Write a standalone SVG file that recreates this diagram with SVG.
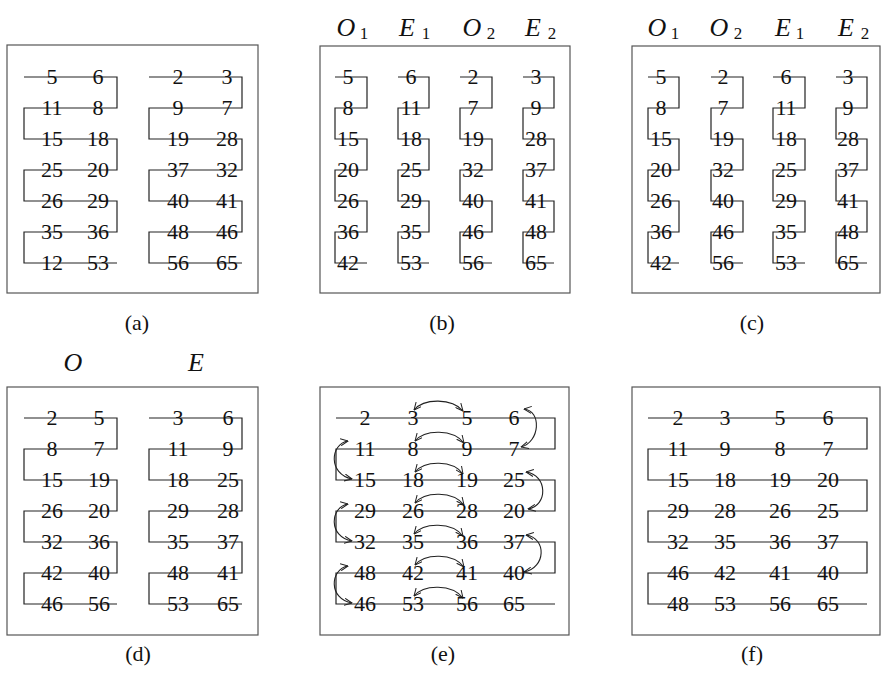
<svg xmlns="http://www.w3.org/2000/svg" width="884" height="680" viewBox="0 0 884 680">
<defs>
<style>
.frame{fill:none;stroke:#555;stroke-width:1.2}
.sp{fill:none;stroke:#222;stroke-width:1.2}
.arc{fill:none;stroke:#222;stroke-width:1.1;marker-start:url(#ah);marker-end:url(#ah)}
text{font-family:"Liberation Serif","Times New Roman",serif;fill:#111}
.n{font-size:22px;text-anchor:middle}
.cap{font-size:22px;text-anchor:middle}
.lab{font-size:26px;font-style:italic;text-anchor:middle}
.sub{font-size:17px;text-anchor:middle}
</style>
<marker id="ah" viewBox="0 0 8 8" refX="7.5" refY="4" markerWidth="8" markerHeight="8" markerUnits="userSpaceOnUse" orient="auto-start-reverse">
<path d="M0,0.5 L7.5,4 L0,7.5" fill="none" stroke="#222" stroke-width="1"/>
</marker>
</defs>
<rect width="884" height="680" fill="#fff"/>

<g id="connectors">
<path class="sp" d="M24 77 H117 V108 H24 V139 H117 V170 H24 V201 H117 V232 H24 V263 H117"/>
<path class="sp" d="M149 77 H242 V108 H149 V139 H242 V170 H149 V201 H242 V232 H149 V263 H242"/>
<path class="sp" d="M335 77 H367 V108 H335 V139 H367 V170 H335 V201 H367 V232 H335 V263 H367"/>
<path class="sp" d="M398 77 H429 V108 H398 V139 H429 V170 H398 V201 H429 V232 H398 V263 H429"/>
<path class="sp" d="M460 77 H492 V108 H460 V139 H492 V170 H460 V201 H492 V232 H460 V263 H492"/>
<path class="sp" d="M523 77 H554 V108 H523 V139 H554 V170 H523 V201 H554 V232 H523 V263 H554"/>
<path class="sp" d="M648 77 H679 V108 H648 V139 H679 V170 H648 V201 H679 V232 H648 V263 H679"/>
<path class="sp" d="M711 77 H743 V108 H711 V139 H743 V170 H711 V201 H743 V232 H711 V263 H743"/>
<path class="sp" d="M773 77 H805 V108 H773 V139 H805 V170 H773 V201 H805 V232 H773 V263 H805"/>
<path class="sp" d="M836 77 H867 V108 H836 V139 H867 V170 H836 V201 H867 V232 H836 V263 H867"/>
<path class="sp" d="M24 418 H117 V449 H24 V480 H117 V511 H24 V542 H117 V573 H24 V604 H117"/>
<path class="sp" d="M149 418 H242 V449 H149 V480 H242 V511 H149 V542 H242 V573 H149 V604 H242"/>
<path class="sp" d="M336 418 H555 V449 H336 V480 H555 V511 H336 V542 H555 V573 H336 V604 H555"/>
<path class="sp" d="M648 418 H867 V449 H648 V480 H867 V511 H648 V542 H867 V573 H648 V604 H867"/>
<path class="arc" d="M414 410 C424 398 452 398 463 411"/>
<path class="arc" d="M415 441 C425 429 453 429 464 443"/>
<path class="arc" d="M415 472 C425 460 453 460 463 474"/>
<path class="arc" d="M415 503 C425 491 453 491 464 505"/>
<path class="arc" d="M414 534 C424 522 452 522 463 536"/>
<path class="arc" d="M415 565 C425 553 453 553 464 567"/>
<path class="arc" d="M414 596 C424 584 452 584 463 598"/>
<path class="arc" d="M524 409 C542 411 540 442 521 447"/>
<path class="arc" d="M526 472 C548 475 548 506 528 509"/>
<path class="arc" d="M526 535 C547 538 546 568 524 572"/>
<path class="arc" d="M348 441 C330 444 328 474 352 479"/>
<path class="arc" d="M348 504 C330 507 328 537 352 541"/>
<path class="arc" d="M348 566 C330 569 328 599 352 603"/>
</g>

<g id="panel-a">
<rect class="frame" x="7" y="45" width="251" height="248"/>
<text class="n" x="52" y="84">5</text><text class="n" x="98" y="84">6</text><text class="n" x="178" y="84">2</text><text class="n" x="227" y="84">3</text>
<text class="n" x="52" y="115">11</text><text class="n" x="98" y="115">8</text><text class="n" x="178" y="115">9</text><text class="n" x="227" y="115">7</text>
<text class="n" x="52" y="146">15</text><text class="n" x="98" y="146">18</text><text class="n" x="178" y="146">19</text><text class="n" x="227" y="146">28</text>
<text class="n" x="52" y="177">25</text><text class="n" x="98" y="177">20</text><text class="n" x="178" y="177">37</text><text class="n" x="227" y="177">32</text>
<text class="n" x="52" y="208">26</text><text class="n" x="98" y="208">29</text><text class="n" x="178" y="208">40</text><text class="n" x="227" y="208">41</text>
<text class="n" x="52" y="239">35</text><text class="n" x="98" y="239">36</text><text class="n" x="178" y="239">48</text><text class="n" x="227" y="239">46</text>
<text class="n" x="52" y="270">12</text><text class="n" x="98" y="270">53</text><text class="n" x="178" y="270">56</text><text class="n" x="227" y="270">65</text>
<text class="cap" x="137" y="330">(a)</text>
</g>

<g id="panel-b">
<rect class="frame" x="320" y="46" width="250" height="247"/>
<text class="lab" x="346" y="36">O</text><text class="sub" x="364" y="39">1</text>
<text class="lab" x="407" y="36">E</text><text class="sub" x="426" y="39">1</text>
<text class="lab" x="472" y="36">O</text><text class="sub" x="491" y="39">2</text>
<text class="lab" x="533" y="36">E</text><text class="sub" x="552" y="39">2</text>
<text class="n" x="348" y="84">5</text><text class="n" x="348" y="115">8</text><text class="n" x="348" y="146">15</text><text class="n" x="348" y="177">20</text><text class="n" x="348" y="208">26</text><text class="n" x="348" y="239">36</text><text class="n" x="348" y="270">42</text>
<text class="n" x="411" y="84">6</text><text class="n" x="411" y="115">11</text><text class="n" x="411" y="146">18</text><text class="n" x="411" y="177">25</text><text class="n" x="411" y="208">29</text><text class="n" x="411" y="239">35</text><text class="n" x="411" y="270">53</text>
<text class="n" x="473" y="84">2</text><text class="n" x="473" y="115">7</text><text class="n" x="473" y="146">19</text><text class="n" x="473" y="177">32</text><text class="n" x="473" y="208">40</text><text class="n" x="473" y="239">46</text><text class="n" x="473" y="270">56</text>
<text class="n" x="536" y="84">3</text><text class="n" x="536" y="115">9</text><text class="n" x="536" y="146">28</text><text class="n" x="536" y="177">37</text><text class="n" x="536" y="208">41</text><text class="n" x="536" y="239">48</text><text class="n" x="536" y="270">65</text>
<text class="cap" x="442" y="330">(b)</text>
</g>

<g id="panel-c">
<rect class="frame" x="632" y="46" width="248" height="247"/>
<text class="lab" x="657" y="36">O</text><text class="sub" x="675" y="39">1</text>
<text class="lab" x="719" y="36">O</text><text class="sub" x="738" y="39">2</text>
<text class="lab" x="783" y="36">E</text><text class="sub" x="800" y="39">1</text>
<text class="lab" x="846" y="36">E</text><text class="sub" x="865" y="39">2</text>
<text class="n" x="661" y="84">5</text><text class="n" x="661" y="115">8</text><text class="n" x="661" y="146">15</text><text class="n" x="661" y="177">20</text><text class="n" x="661" y="208">26</text><text class="n" x="661" y="239">36</text><text class="n" x="661" y="270">42</text>
<text class="n" x="723" y="84">2</text><text class="n" x="723" y="115">7</text><text class="n" x="723" y="146">19</text><text class="n" x="723" y="177">32</text><text class="n" x="723" y="208">40</text><text class="n" x="723" y="239">46</text><text class="n" x="723" y="270">56</text>
<text class="n" x="786" y="84">6</text><text class="n" x="786" y="115">11</text><text class="n" x="786" y="146">18</text><text class="n" x="786" y="177">25</text><text class="n" x="786" y="208">29</text><text class="n" x="786" y="239">35</text><text class="n" x="786" y="270">53</text>
<text class="n" x="848" y="84">3</text><text class="n" x="848" y="115">9</text><text class="n" x="848" y="146">28</text><text class="n" x="848" y="177">37</text><text class="n" x="848" y="208">41</text><text class="n" x="848" y="239">48</text><text class="n" x="848" y="270">65</text>
<text class="cap" x="752" y="330">(c)</text>
</g>

<g id="panel-d">
<rect class="frame" x="7" y="387" width="251" height="248"/>
<text class="lab" x="73" y="371">O</text><text class="lab" x="196" y="371">E</text>
<text class="n" x="52" y="425">2</text><text class="n" x="99" y="425">5</text><text class="n" x="178" y="425">3</text><text class="n" x="228" y="425">6</text>
<text class="n" x="52" y="456">8</text><text class="n" x="99" y="456">7</text><text class="n" x="178" y="456">11</text><text class="n" x="228" y="456">9</text>
<text class="n" x="52" y="487">15</text><text class="n" x="99" y="487">19</text><text class="n" x="178" y="487">18</text><text class="n" x="228" y="487">25</text>
<text class="n" x="52" y="518">26</text><text class="n" x="99" y="518">20</text><text class="n" x="178" y="518">29</text><text class="n" x="228" y="518">28</text>
<text class="n" x="52" y="549">32</text><text class="n" x="99" y="549">36</text><text class="n" x="178" y="549">35</text><text class="n" x="228" y="549">37</text>
<text class="n" x="52" y="580">42</text><text class="n" x="99" y="580">40</text><text class="n" x="178" y="580">48</text><text class="n" x="228" y="580">41</text>
<text class="n" x="52" y="611">46</text><text class="n" x="99" y="611">56</text><text class="n" x="178" y="611">53</text><text class="n" x="228" y="611">65</text>
<text class="cap" x="138" y="661">(d)</text>
</g>

<g id="panel-e">
<rect class="frame" x="320" y="387" width="249" height="248"/>
<text class="n" x="365" y="425">2</text><text class="n" x="413" y="425">3</text><text class="n" x="467" y="425">5</text><text class="n" x="514" y="425">6</text>
<text class="n" x="365" y="456">11</text><text class="n" x="413" y="456">8</text><text class="n" x="467" y="456">9</text><text class="n" x="514" y="456">7</text>
<text class="n" x="365" y="487">15</text><text class="n" x="413" y="487">18</text><text class="n" x="467" y="487">19</text><text class="n" x="514" y="487">25</text>
<text class="n" x="365" y="518">29</text><text class="n" x="413" y="518">26</text><text class="n" x="467" y="518">28</text><text class="n" x="514" y="518">20</text>
<text class="n" x="365" y="549">32</text><text class="n" x="413" y="549">35</text><text class="n" x="467" y="549">36</text><text class="n" x="514" y="549">37</text>
<text class="n" x="365" y="580">48</text><text class="n" x="413" y="580">42</text><text class="n" x="467" y="580">41</text><text class="n" x="514" y="580">40</text>
<text class="n" x="365" y="611">46</text><text class="n" x="413" y="611">53</text><text class="n" x="467" y="611">56</text><text class="n" x="514" y="611">65</text>
<text class="cap" x="443" y="661">(e)</text>
</g>

<g id="panel-f">
<rect class="frame" x="632" y="387" width="248" height="248"/>
<text class="n" x="678" y="425">2</text><text class="n" x="725" y="425">3</text><text class="n" x="780" y="425">5</text><text class="n" x="828" y="425">6</text>
<text class="n" x="678" y="456">11</text><text class="n" x="725" y="456">9</text><text class="n" x="780" y="456">8</text><text class="n" x="828" y="456">7</text>
<text class="n" x="678" y="487">15</text><text class="n" x="725" y="487">18</text><text class="n" x="780" y="487">19</text><text class="n" x="828" y="487">20</text>
<text class="n" x="678" y="518">29</text><text class="n" x="725" y="518">28</text><text class="n" x="780" y="518">26</text><text class="n" x="828" y="518">25</text>
<text class="n" x="678" y="549">32</text><text class="n" x="725" y="549">35</text><text class="n" x="780" y="549">36</text><text class="n" x="828" y="549">37</text>
<text class="n" x="678" y="580">46</text><text class="n" x="725" y="580">42</text><text class="n" x="780" y="580">41</text><text class="n" x="828" y="580">40</text>
<text class="n" x="678" y="611">48</text><text class="n" x="725" y="611">53</text><text class="n" x="780" y="611">56</text><text class="n" x="828" y="611">65</text>
<text class="cap" x="752" y="661">(f)</text>
</g>
</svg>
